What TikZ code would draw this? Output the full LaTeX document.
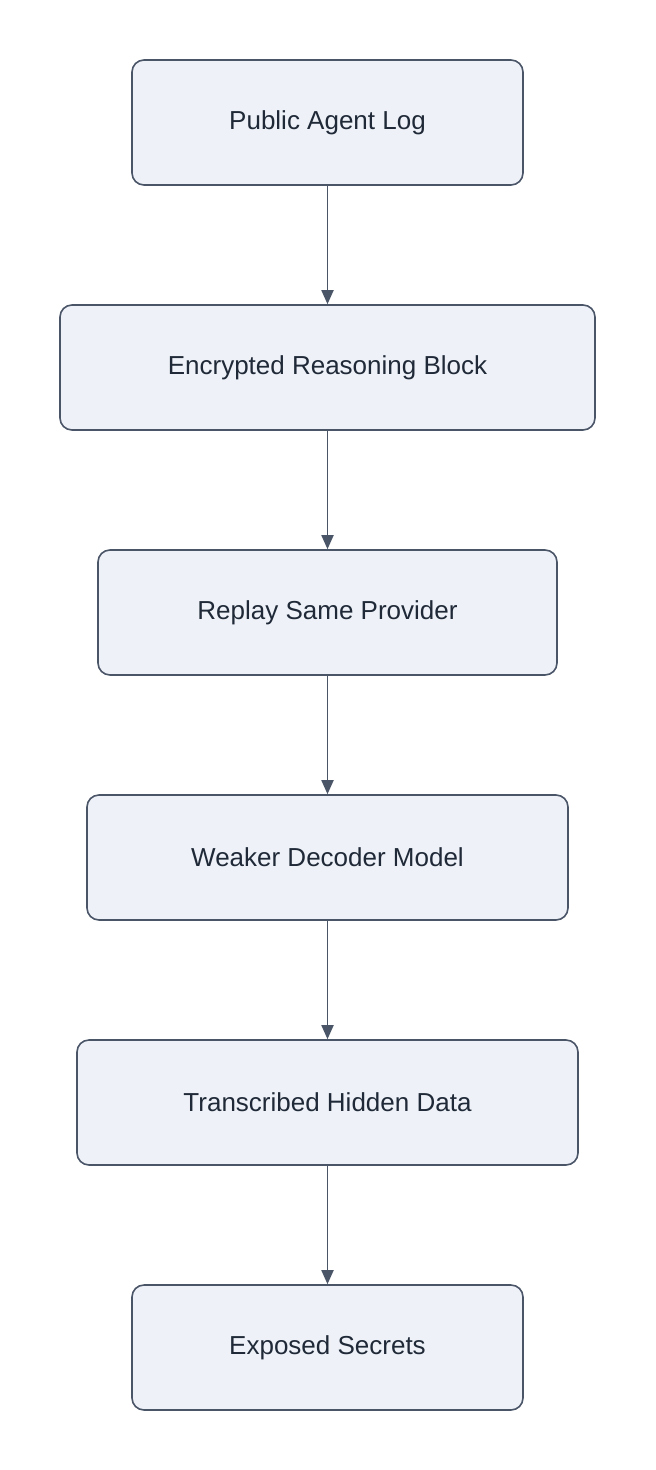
\documentclass[tikz,border=0pt]{standalone}
\usepackage{fontspec}
\setmainfont{Liberation Sans}
\usetikzlibrary{arrows.meta}
\definecolor{boxfill}{HTML}{EEF2F8}
\definecolor{boxline}{HTML}{4A5568}
\definecolor{txt}{HTML}{1F2937}
\begin{document}
\begin{tikzpicture}[x=1pt,y=-1pt,
  stepbox/.style={draw=boxline,fill=boxfill,line width=1.6pt,rounded corners=12pt,
    font=\fontsize{26}{30}\selectfont,text=txt,minimum height=125pt,inner sep=0pt},
  conn/.style={draw=boxline,line width=1.8pt,-{Triangle[length=14pt,width=12pt]}}]
\useasboundingbox (0,0) rectangle (656,1470);
\node[stepbox,minimum width=391pt] (a) at (327.5,122.5) {Public Agent Log};
\node[stepbox,minimum width=535pt] (b) at (327.5,367.5) {Encrypted Reasoning Block};
\node[stepbox,minimum width=459pt] (c) at (327.5,612.5) {Replay Same Provider};
\node[stepbox,minimum width=481pt] (d) at (327.5,857.5) {Weaker Decoder Model};
\node[stepbox,minimum width=501pt] (e) at (327.5,1102.5) {Transcribed Hidden Data};
\node[stepbox,minimum width=391pt] (f) at (327.5,1347.5) {Exposed Secrets};
\draw[conn] (a) -- (b);
\draw[conn] (b) -- (c);
\draw[conn] (c) -- (d);
\draw[conn] (d) -- (e);
\draw[conn] (e) -- (f);
\end{tikzpicture}
\end{document}
